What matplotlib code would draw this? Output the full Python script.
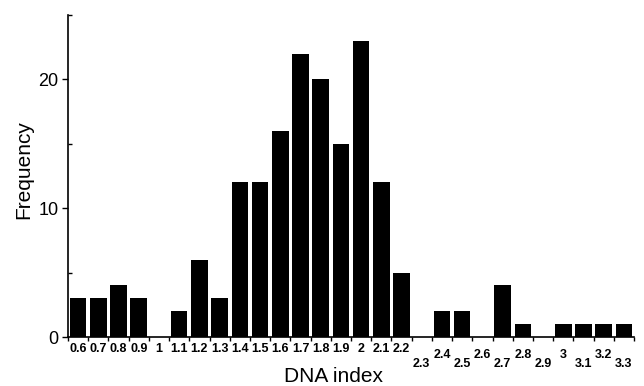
"""Histogram of DNA index values."""

import matplotlib
matplotlib.use("Agg")
import matplotlib.pyplot as plt
import matplotlib.transforms as mtransforms
import numpy as np

dna_index = ["0.6", "0.7", "0.8", "0.9", "1", "1.1", "1.2", "1.3", "1.4", "1.5",
             "1.6", "1.7", "1.8", "1.9", "2", "2.1", "2.2", "2.3", "2.4", "2.5",
             "2.6", "2.7", "2.8", "2.9", "3", "3.1", "3.2", "3.3"]
frequency = [3, 3, 4, 3, 0, 2, 6, 3, 12, 12,
             16, 22, 20, 15, 23, 12, 5, 0, 2, 2,
             0, 4, 1, 0, 1, 1, 1, 1]

plt.rcParams["font.family"] = ["Liberation Sans", "DejaVu Sans"]

fig = plt.figure(figsize=(6.44, 3.86), dpi=100)
ax = fig.add_axes([68 / 644, 1 - 337 / 386, 566 / 644, 322 / 386])

x = np.arange(len(dna_index))
ax.bar(x, frequency, width=0.82, color="black")

ax.set_xlim(-0.5, len(dna_index) - 0.5)
ax.set_ylim(0, 25)

for side in ("top", "right"):
    ax.spines[side].set_visible(False)
ax.spines["left"].set_linewidth(1.2)
ax.spines["bottom"].set_linewidth(1.2)

# y axis: major at 0/10/20, minor at 5/15/25
ax.set_yticks([0, 10, 20])
ax.set_yticks([5, 15, 25], minor=True)
ax.tick_params(axis="y", which="major", direction="out", length=4, width=1,
               labelsize=13, pad=3)
ax.tick_params(axis="y", which="minor", direction="in", length=3, width=1)

# x axis: small ticks at bin edges, labels at bin centres
ax.set_xticks(x)
ax.set_xticks(np.arange(len(dna_index) + 1) - 0.5, minor=True)
ax.tick_params(axis="x", which="major", length=0, pad=4)
ax.tick_params(axis="x", which="minor", direction="out", length=3, width=1)
ax.set_xticklabels(dna_index, fontsize=9, fontweight="bold")

# staggered labels from 2.3 on
start = dna_index.index("2.3")
for i, lab in enumerate(ax.get_xticklabels()):
    if i >= start:
        dy = -15 if (i - start) % 2 == 0 else -6
        lab.set_transform(lab.get_transform() +
                          mtransforms.ScaledTranslation(0, dy / 100, fig.dpi_scale_trans))

fig.text(24 / 644, 1 - 170 / 386, "Frequency", fontsize=15, rotation=90,
         ha="center", va="center")
fig.text(334 / 644, 1 - 376 / 386, "DNA index", fontsize=15, ha="center", va="center")

fig.savefig("out.png", dpi=100)
